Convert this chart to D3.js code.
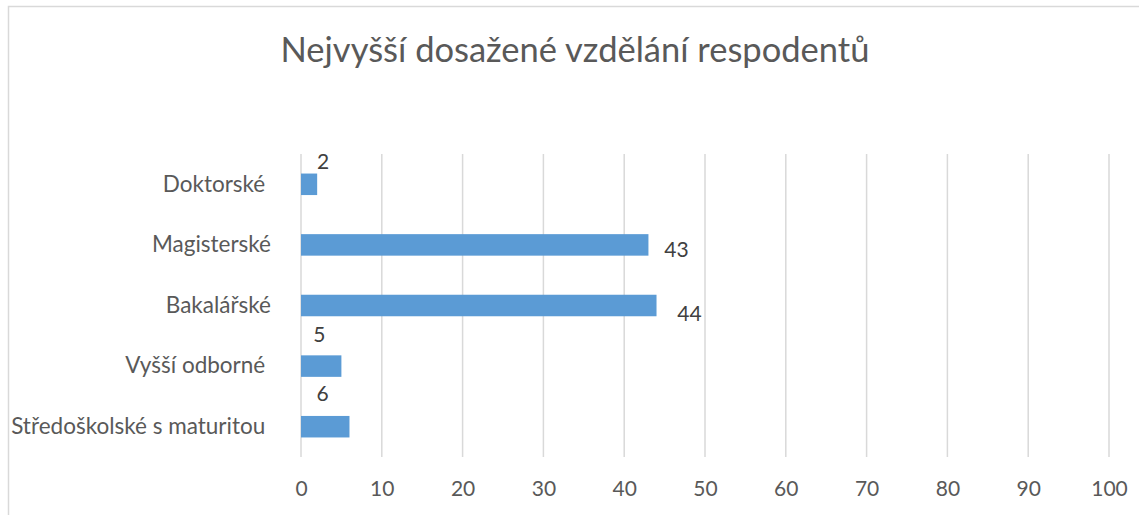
<!DOCTYPE html>
<html>
<head>
<meta charset="utf-8">
<script src="https://cdn.jsdelivr.net/npm/d3@7"></script>
<style>
  body { margin: 0; background: #fff; }
  text { font-family: Lato, "Open Sans", sans-serif; }
</style>
</head>
<body>
<div id="chart"></div>
<script>
// data
var categories = ["Doktorské ", "Magisterské", "Bakalářské", "Vyšší odborné ", "Středoškolské s maturitou "];
var values = [2, 43, 44, 5, 6];
var xTicks = [0, 10, 20, 30, 40, 50, 60, 70, 80, 90, 100];
var title = "Nejvyšší dosažené vzdělání respodentů";

// label nudges (Excel had them dragged around by hand)
var labelShift = [[6, -23], [28, 5], [33, 8], [-22, -31], [-27, -33]];

var width = 1139, height = 515;
var margin = { top: 154, right: 30, bottom: 58, left: 301 };
var plotW = 1109 - margin.left;
var plotH = 457 - margin.top;

var svg = d3.select("#chart").append("svg")
  .attr("width", width)
  .attr("height", height);

// chart frame
svg.append("rect")
  .attr("x", 8.5).attr("y", 6.5)
  .attr("width", 1200).attr("height", 600)
  .attr("fill", "none")
  .attr("stroke", "#d9d9d9")
  .attr("stroke-width", 1.5);

svg.append("text")
  .attr("x", 575).attr("y", 62)
  .attr("text-anchor", "middle")
  .attr("font-size", "34.5px")
  .attr("fill", "#595959")
  .text(title);

var x = d3.scaleLinear().domain([0, 100]).range([0, plotW]);
var y = d3.scaleBand().domain(categories).range([0, plotH])
  .paddingInner(0.645).paddingOuter(0.3225);

var g = svg.append("g").attr("transform", "translate(" + margin.left + "," + margin.top + ")");

// gridlines
g.append("g").selectAll("line")
  .data(xTicks)
  .enter().append("line")
  .attr("x1", function (d) { return x(d); })
  .attr("x2", function (d) { return x(d); })
  .attr("y1", 0).attr("y2", plotH)
  .attr("stroke", "#d9d9d9")
  .attr("stroke-width", 1.5);

// x axis labels
var xAxis = d3.axisBottom(x).tickValues(xTicks).tickSize(0).tickPadding(24);
var xg = g.append("g").attr("transform", "translate(0," + plotH + ")").call(xAxis);
xg.select(".domain").remove();
xg.selectAll("text")
  .attr("font-family", "Lato, sans-serif")
  .attr("font-size", "21px")
  .attr("fill", "#595959");

// category labels
var yAxis = d3.axisLeft(y).tickSize(0).tickPadding(30);
var yg = g.append("g").call(yAxis);
yg.select(".domain").remove();
yg.selectAll("text")
  .attr("font-family", "Lato, sans-serif")
  .attr("font-size", "22.5px")
  .attr("fill", "#595959")
  .style("white-space", "pre");

// bars
g.append("g").selectAll("rect")
  .data(values)
  .enter().append("rect")
  .attr("x", 0)
  .attr("y", function (d, i) { return y(categories[i]); })
  .attr("width", function (d) { return x(d); })
  .attr("height", y.bandwidth())
  .attr("fill", "#5b9bd5");

// data labels
g.append("g").selectAll("text")
  .data(values)
  .enter().append("text")
  .attr("x", function (d, i) { return x(d) + labelShift[i][0]; })
  .attr("y", function (d, i) { return y(categories[i]) + y.bandwidth() / 2 + labelShift[i][1]; })
  .attr("dy", "0.35em")
  .attr("text-anchor", "middle")
  .attr("font-size", "21px")
  .attr("fill", "#404040")
  .text(function (d) { return d; });
</script>
</body>
</html>
